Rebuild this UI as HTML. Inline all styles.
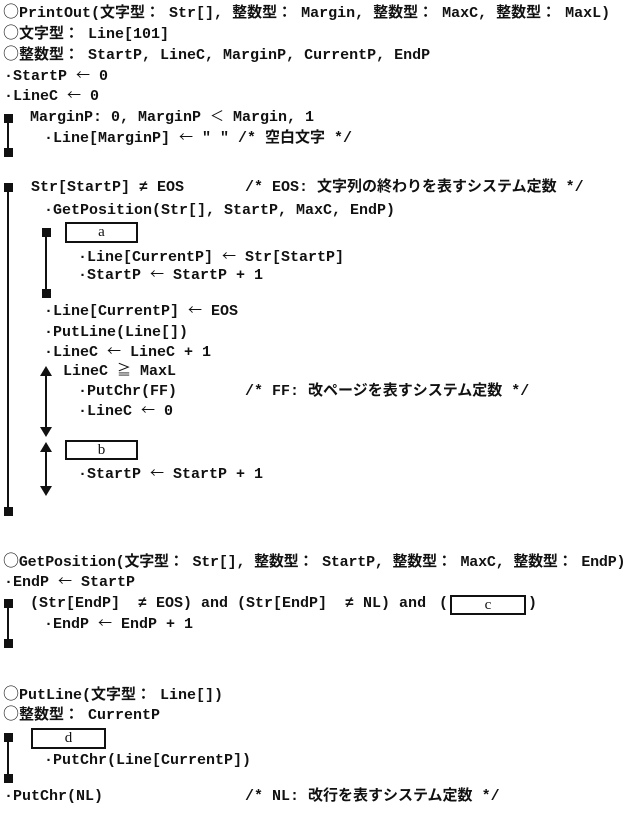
<!DOCTYPE html>
<html><head><meta charset="utf-8"><style>
html,body{margin:0;padding:0;background:#fff;}
body{width:632px;height:815px;position:relative;overflow:hidden;}
.t{position:absolute;white-space:pre;font-family:"Liberation Mono","Noto Sans CJK JP",monospace;font-weight:bold;font-size:15px;line-height:18px;height:18px;color:#111;}
.t span{line-height:0;}
.a{font-family:"Noto Sans CJK JP",sans-serif;font-weight:normal;font-size:14px;}
.k{font-family:"Noto Sans CJK JP",sans-serif;font-weight:bold;font-size:15px;}
.c{font-family:"Noto Sans CJK JP",sans-serif;font-weight:normal;font-size:16px;}
.sq{position:absolute;width:9px;height:9px;background:#111;}
.vl{position:absolute;width:2px;background:#111;}
.bx{position:absolute;border:2px solid #111;box-sizing:border-box;font-family:"Liberation Serif",serif;font-size:15px;text-align:center;color:#111;}
.up{position:absolute;width:0;height:0;border-left:6px solid transparent;border-right:6px solid transparent;border-bottom:10px solid #111;}
.dn{position:absolute;width:0;height:0;border-left:6px solid transparent;border-right:6px solid transparent;border-top:10px solid #111;}
</style></head><body>
<div class="t" style="left:3px;top:5px"><span class="c">○</span>PrintOut(<span class="k">文字型：</span> Str[], <span class="k">整数型：</span> Margin, <span class="k">整数型：</span> MaxC, <span class="k">整数型：</span> MaxL)</div>
<div class="t" style="left:3px;top:26px"><span class="c">○</span><span class="k">文字型：</span> Line[101]</div>
<div class="t" style="left:3px;top:47px"><span class="c">○</span><span class="k">整数型：</span> StartP, LineC, MarginP, CurrentP, EndP</div>
<div class="t" style="left:4px;top:68px">·StartP <span class="a">←</span> 0</div>
<div class="t" style="left:4px;top:88px">·LineC <span class="a">←</span> 0</div>
<div class="sq" style="left:4px;top:114px"></div><div class="vl" style="left:7px;top:118px;height:35px"></div><div class="sq" style="left:4px;top:148px"></div>
<div class="t" style="left:30px;top:109px">MarginP: 0, MarginP <span class="a">＜</span> Margin, 1</div>
<div class="t" style="left:44px;top:130px">·Line[MarginP] <span class="a">←</span> " " /* 空白文字 */</div>

<div class="sq" style="left:4px;top:183px"></div><div class="vl" style="left:7px;top:187px;height:325px"></div><div class="sq" style="left:4px;top:507px"></div>
<div class="t" style="left:31px;top:179px">Str[StartP] ≠ EOS</div>
<div class="t" style="left:245px;top:179px">/* EOS: 文字列の終わりを表すシステム定数 */</div>
<div class="t" style="left:44px;top:202px">·GetPosition(Str[], StartP, MaxC, EndP)</div>
<div class="sq" style="left:42px;top:228px"></div><div class="vl" style="left:45px;top:232px;height:62px"></div><div class="sq" style="left:42px;top:289px"></div>
<div class="bx" style="left:65px;top:222px;width:73px;height:21px;line-height:17px">a</div>
<div class="t" style="left:78px;top:249px">·Line[CurrentP] <span class="a">←</span> Str[StartP]</div>
<div class="t" style="left:78px;top:267px">·StartP <span class="a">←</span> StartP + 1</div>
<div class="t" style="left:44px;top:303px">·Line[CurrentP] <span class="a">←</span> EOS</div>
<div class="t" style="left:44px;top:324px">·PutLine(Line[])</div>
<div class="t" style="left:44px;top:344px">·LineC <span class="a">←</span> LineC + 1</div>
<div class="up" style="left:40px;top:366px"></div><div class="vl" style="left:45px;top:374px;height:56px"></div><div class="dn" style="left:40px;top:427px"></div>
<div class="t" style="left:63px;top:363px">LineC <span class="a">≧</span> MaxL</div>
<div class="t" style="left:78px;top:383px">·PutChr(FF)</div>
<div class="t" style="left:245px;top:383px">/* FF: 改ページを表すシステム定数 */</div>
<div class="t" style="left:78px;top:403px">·LineC <span class="a">←</span> 0</div>
<div class="up" style="left:40px;top:442px"></div><div class="vl" style="left:45px;top:450px;height:38px"></div><div class="dn" style="left:40px;top:486px"></div>
<div class="bx" style="left:65px;top:440px;width:73px;height:20px;line-height:16px">b</div>
<div class="t" style="left:78px;top:466px">·StartP <span class="a">←</span> StartP + 1</div>

<div class="t" style="left:3px;top:554px;letter-spacing:-0.2px"><span class="c">○</span>GetPosition(<span class="k">文字型：</span> Str[], <span class="k">整数型：</span> StartP, <span class="k">整数型：</span> MaxC, <span class="k">整数型：</span> EndP)</div>
<div class="t" style="left:4px;top:574px">·EndP <span class="a">←</span> StartP</div>
<div class="sq" style="left:4px;top:599px"></div><div class="vl" style="left:7px;top:603px;height:40px"></div><div class="sq" style="left:4px;top:639px"></div>
<div class="t" style="left:30px;top:595px">(Str[EndP]  ≠ EOS) and (Str[EndP]  ≠ NL) and</div>
<div class="t" style="left:439px;top:595px">(</div>
<div class="bx" style="left:450px;top:595px;width:76px;height:20px;line-height:16px">c</div>
<div class="t" style="left:528px;top:595px">)</div>
<div class="t" style="left:44px;top:616px">·EndP <span class="a">←</span> EndP + 1</div>

<div class="t" style="left:3px;top:687px"><span class="c">○</span>PutLine(<span class="k">文字型：</span> Line[])</div>
<div class="t" style="left:3px;top:707px"><span class="c">○</span><span class="k">整数型：</span> CurrentP</div>
<div class="sq" style="left:4px;top:733px"></div><div class="vl" style="left:7px;top:737px;height:42px"></div><div class="sq" style="left:4px;top:774px"></div>
<div class="bx" style="left:31px;top:728px;width:75px;height:21px;line-height:17px">d</div>
<div class="t" style="left:44px;top:752px">·PutChr(Line[CurrentP])</div>
<div class="t" style="left:4px;top:788px">·PutChr(NL)</div>
<div class="t" style="left:245px;top:788px">/* NL: 改行を表すシステム定数 */</div>
</body></html>
